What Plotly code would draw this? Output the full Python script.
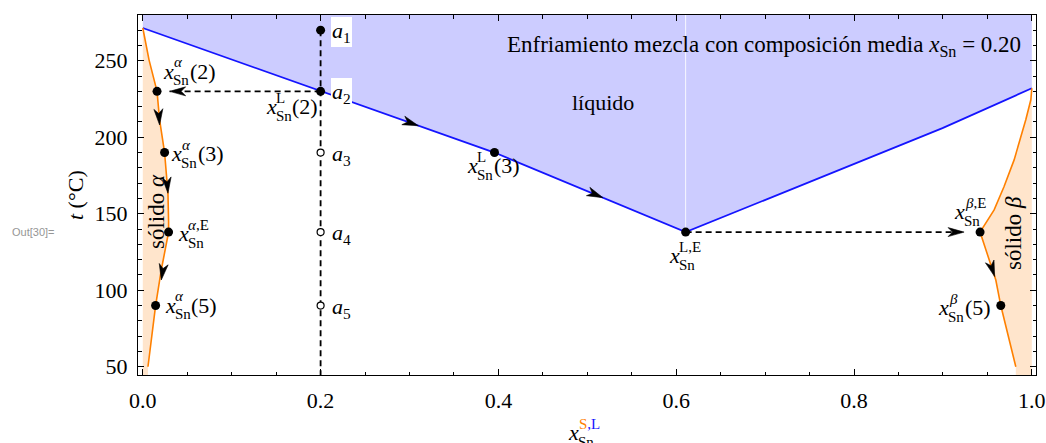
import numpy as np
import plotly.graph_objects as go

# ---------------- data ----------------
LIQ_X = [0.0, 0.2, 0.3956, 0.6106, 0.8995, 1.0]
LIQ_T = [271.4, 230.0, 190.0, 138.0, 206.0, 232.0]
ALPHA_X = [0.0, 0.007, 0.016, 0.0189, 0.0245, 0.0283, 0.029, 0.029, 0.0208, 0.0144, 0.0058]
ALPHA_T = [271.4, 250.6, 230.0, 211.4, 190.0, 163.4, 145.0, 138.0, 113.3, 90.0, 50.0]
BETA_X = [1.0, 0.9989, 0.9932, 0.9876, 0.9801, 0.9688, 0.9576, 0.9418, 0.9519, 0.9595, 0.9651, 0.982]
BETA_T = [232.0, 224.5, 211.4, 200.5, 185.2, 167.8, 152.5, 138.0, 119.8, 106.7, 90.0, 50.0]
X_MEAN = 0.2
A_T = [270.0, 230.0, 190.0, 138.0, 90.0]          # a1..a5
A_NAMES = ["1", "2", "3", "4", "5"]
X_ALPHA = {"2": (0.016, 230.0), "3": (0.0245, 190.0), "E": (0.029, 138.0), "5": (0.0144, 90.0)}
X_LIQ = {"2": (0.2, 230.0), "3": (0.3956, 190.0), "E": (0.6106, 138.0)}
X_BETA = {"E": (0.9418, 138.0), "5": (0.9651, 90.0)}
# arrow tips (t value on the curve)
ARROWS_LIQ = [207.5, 160.5]
ARROWS_ALPHA = [208.0, 163.4, 106.7]
ARROWS_BETA = [108.9]
ARROW_DASH_LEFT_X = 0.0302
ARROW_DASH_RIGHT_X = 0.9238

XTICKS = [0.0, 0.2, 0.4, 0.6, 0.8, 1.0]
XTICK_TEXT = ["0.0", "0.2", "0.4", "0.6", "0.8", "1.0"]
YTICKS = [50, 100, 150, 200, 250]

# ---------------- layout constants ----------------
W, H = 1046, 443
ML, MR, MT, MB = 138, 10, 15, 68
XR = [-0.0054, 1.0047]
YR = [44.6, 279.9]
PW, PH = W - ML - MR, H - MT - MB
PX_X = PW / (XR[1] - XR[0])
PX_T = PH / (YR[1] - YR[0])

SERIF = "Liberation Serif"
BLUE = "rgb(20,20,255)"
ORANGE = "rgb(255,128,0)"
FILL_BLUE = "rgb(204,204,255)"
FILL_ORANGE = "rgb(255,229,204)"

fig = go.Figure()

# liquid region fill
fx = list(LIQ_X) + [LIQ_X[-1], LIQ_X[0]]
ft = list(LIQ_T) + [YR[1], YR[1]]
fig.add_trace(go.Scatter(x=fx, y=ft, fill="toself", fillcolor=FILL_BLUE, mode="lines",
                         line=dict(width=0), hoverinfo="skip", showlegend=False))
# seam in the fill (two polygons in the original)
fig.add_trace(go.Scatter(x=[LIQ_X[3], LIQ_X[3]], y=[LIQ_T[3], YR[1]], mode="lines",
                         line=dict(color="rgba(255,255,255,0.85)", width=1), showlegend=False))

# solid alpha fill
ax_ = list(ALPHA_X) + [ALPHA_X[-1], 0.0]
at_ = list(ALPHA_T) + [YR[0], YR[0]]
fig.add_trace(go.Scatter(x=ax_, y=at_, fill="toself", fillcolor=FILL_ORANGE, mode="lines",
                         line=dict(width=0), hoverinfo="skip", showlegend=False))
# solid beta fill
bx_ = list(BETA_X) + [BETA_X[-1], 1.0]
bt_ = list(BETA_T) + [YR[0], YR[0]]
fig.add_trace(go.Scatter(x=bx_, y=bt_, fill="toself", fillcolor=FILL_ORANGE, mode="lines",
                         line=dict(width=0), hoverinfo="skip", showlegend=False))

# curves
fig.add_trace(go.Scatter(x=LIQ_X, y=LIQ_T, mode="lines", line=dict(color=BLUE, width=1.8), showlegend=False))
fig.add_trace(go.Scatter(x=ALPHA_X, y=ALPHA_T, mode="lines", line=dict(color=ORANGE, width=1.6), showlegend=False))
fig.add_trace(go.Scatter(x=BETA_X, y=BETA_T, mode="lines", line=dict(color=ORANGE, width=1.6), showlegend=False))

DASH = "6px,4px"
# vertical dashed cooling path
fig.add_trace(go.Scatter(x=[X_MEAN, X_MEAN], y=[A_T[0], YR[0]], mode="lines",
                         line=dict(color="black", width=1.8, dash=DASH), showlegend=False))
# tie lines
fig.add_trace(go.Scatter(x=[X_LIQ["2"][0], ARROW_DASH_LEFT_X], y=[A_T[1], A_T[1]], mode="lines",
                         line=dict(color="black", width=1.6, dash=DASH), showlegend=False))
fig.add_trace(go.Scatter(x=[X_LIQ["E"][0], ARROW_DASH_RIGHT_X], y=[X_LIQ["E"][1]] * 2, mode="lines",
                         line=dict(color="black", width=1.6, dash=DASH), showlegend=False))


def tip_on(curve_x, curve_t, t, lo, hi):
    """x position at temperature t on the segment range lo..hi of a curve"""
    xs = np.array(curve_x[lo:hi + 1]); ts = np.array(curve_t[lo:hi + 1])
    order = np.argsort(ts)
    return float(np.interp(t, ts[order], xs[order]))


def arrow(tip, prev, L=16.0, Wd=9.0, notch=0.72):
    dx = (tip[0] - prev[0]) * PX_X
    dy = (tip[1] - prev[1]) * PX_T
    n = np.hypot(dx, dy)
    ux, uy = dx / n, dy / n
    px, py = -uy, ux
    rel = [(0, 0), (-L * ux + Wd / 2 * px, -L * uy + Wd / 2 * py), (-notch * L * ux, -notch * L * uy),
           (-L * ux - Wd / 2 * px, -L * uy - Wd / 2 * py), (0, 0)]
    xs = [tip[0] + r[0] / PX_X for r in rel]
    ys = [tip[1] + r[1] / PX_T for r in rel]
    fig.add_trace(go.Scatter(x=xs, y=ys, fill="toself", fillcolor="black", mode="lines",
                             line=dict(color="black", width=0.6), hoverinfo="skip", showlegend=False))


# liquidus arrows
t = ARROWS_LIQ[0]; arrow((tip_on(LIQ_X, LIQ_T, t, 1, 2), t), (LIQ_X[1], LIQ_T[1]))
t = ARROWS_LIQ[1]; arrow((tip_on(LIQ_X, LIQ_T, t, 2, 3), t), (LIQ_X[2], LIQ_T[2]))
# alpha arrows
t = ARROWS_ALPHA[0]; arrow((tip_on(ALPHA_X, ALPHA_T, t, 2, 3), t), (ALPHA_X[2], ALPHA_T[2]))
t = ARROWS_ALPHA[1]; arrow((tip_on(ALPHA_X, ALPHA_T, t, 4, 5), t), (ALPHA_X[4], ALPHA_T[4]))
t = ARROWS_ALPHA[2]; arrow((tip_on(ALPHA_X, ALPHA_T, t, 7, 8), t), (ALPHA_X[7], ALPHA_T[7]))
# beta arrow
t = ARROWS_BETA[0]; arrow((tip_on(BETA_X, BETA_T, t, 7, 9), t), (BETA_X[7], BETA_T[7]))
# tie-line arrows
arrow((ARROW_DASH_LEFT_X, A_T[1]), (X_LIQ["2"][0], A_T[1]))
arrow((ARROW_DASH_RIGHT_X, X_LIQ["E"][1]), (X_LIQ["E"][0], X_LIQ["E"][1]))

# points
filled = [(X_MEAN, A_T[0]), (X_MEAN, A_T[1]), X_ALPHA["2"], X_ALPHA["3"], X_LIQ["3"], X_ALPHA["E"],
          X_LIQ["E"], X_BETA["E"], X_ALPHA["5"], X_BETA["5"]]
fig.add_trace(go.Scatter(x=[p[0] for p in filled], y=[p[1] for p in filled], mode="markers",
                         marker=dict(color="black", size=9), showlegend=False))
fig.add_trace(go.Scatter(x=[X_MEAN] * 3, y=A_T[2:], mode="markers",
                         marker=dict(color="white", size=7, line=dict(color="black", width=1.2)),
                         showlegend=False))

# ---------------- text ----------------
S_MAIN, S_SUB = 22, 15


def piece(xd, yd, text, size, left, base, color="black", ref="data", angle=0, bg=None, xanchor="left"):
    middle = base - 0.3375 * size
    kw = dict(xref="x", yref="y") if ref == "data" else dict(xref="paper", yref="paper")
    fig.add_annotation(x=xd, y=yd, text=text, showarrow=False, textangle=angle,
                       font=dict(family=SERIF, size=size, color=color), xanchor=xanchor, yanchor="middle",
                       xshift=left - 2, yshift=-middle, bgcolor=bg, borderpad=1, **kw)


SN_W = 1.056 * S_SUB


def xlabel(pt, bx, by, sup, tail=None, sup_w=None, ref="data"):
    piece(pt[0], pt[1], "<i>x</i>", S_MAIN, bx, by, ref=ref)
    piece(pt[0], pt[1], "Sn", S_SUB, bx + 10, by + 7, ref=ref)
    piece(pt[0], pt[1], sup, S_SUB, bx + 10.5, by - 11, ref=ref)
    if tail:
        w = max(SN_W, sup_w or 0)
        piece(pt[0], pt[1], tail, S_MAIN, bx + 10 + w + 1, by, ref=ref)


xlabel(X_ALPHA["2"], 6, -12.8, "<i>α</i>", "(2)", 8)
xlabel(X_LIQ["2"], -55, 22.7, "L", "(2)", 9)
xlabel(X_ALPHA["3"], 6.7, 8.2, "<i>α</i>", "(3)", 8)
xlabel(X_LIQ["3"], -27.6, 20.7, "L", "(3)", 9)
xlabel(X_ALPHA["E"], 9.4, 8.6, "<i>α</i>,E")
xlabel(X_LIQ["E"], -16.7, 31, "L,E")
xlabel(X_BETA["E"], -26, -13.3, "<i>β</i>,E")
xlabel(X_ALPHA["5"], 9, 7, "<i>α</i>", "(5)", 8)
xlabel(X_BETA["5"], -62.7, 9.3, "<i>β</i>", "(5)", 8)

# a_i labels
for i, (tv, nm) in enumerate(zip(A_T, A_NAMES)):
    bg = "white" if i < 2 else None
    fig.add_annotation(x=X_MEAN, y=tv, xref="x", yref="y", text="<i>a</i><sub>%s</sub>" % nm,
                       showarrow=False, font=dict(family=SERIF, size=S_MAIN, color="black"),
                       xanchor="left", yanchor="middle", xshift=10, yshift=-2, bgcolor=bg, borderpad=0,
                       borderwidth=1, bordercolor=bg if bg else "rgba(0,0,0,0)")

# region names
fig.add_annotation(x=0.5, y=1, xref="paper", yref="paper",
                   text="Enfriamiento mezcla con composición media <i>x</i><sub>Sn</sub> = 0.20",
                   showarrow=False, font=dict(family=SERIF, size=23, color="black"),
                   xanchor="right", yanchor="middle", xshift=(1023 - (ML + PW / 2)), yshift=-(46 - MT))
fig.add_annotation(x=0.5, y=1, xref="paper", yref="paper", text="líquido", showarrow=False,
                   font=dict(family=SERIF, size=22, color="black"), xanchor="center", yanchor="middle",
                   xshift=(603 - (ML + PW / 2)), yshift=-(102 - MT))
fig.add_annotation(x=0, y=0.5, xref="paper", yref="paper", text="sólido <i>α</i>", showarrow=False,
                   textangle=-90, font=dict(family=SERIF, size=23, color="black"),
                   xanchor="center", yanchor="middle", xshift=(156 - ML), yshift=-(212 - (MT + PH / 2)))
fig.add_annotation(x=1, y=0.5, xref="paper", yref="paper", text="sólido <i>β</i>", showarrow=False,
                   textangle=-90, font=dict(family=SERIF, size=23, color="black"),
                   xanchor="center", yanchor="middle", xshift=(1013 - (ML + PW)), yshift=-(233 - (MT + PH / 2)))

# axis titles
fig.add_annotation(x=0, y=0.5, xref="paper", yref="paper", text="<i>t</i> (°C)", showarrow=False,
                   textangle=-90, font=dict(family=SERIF, size=22, color="black"),
                   xanchor="center", yanchor="middle", xshift=(75 - ML), yshift=0)
XT = (0.5, 0.0)
xlabel(XT, 568 - (ML + PW / 2), 440 - (MT + PH), '<span style="color:rgb(255,128,0)">S</span>'
       '<span style="color:rgb(20,20,255)">,L</span>', ref="paper")

fig.add_annotation(x=0, y=0.5, xref="paper", yref="paper", text="Out[30]=", showarrow=False,
                   font=dict(family="Liberation Sans", size=11, color="rgb(150,150,150)"),
                   xanchor="left", yanchor="middle", xshift=(10 - ML), yshift=-(232 - (MT + PH / 2)))

axis_common = dict(showline=True, linecolor="black", linewidth=1, mirror="ticks", ticks="inside",
                   tickcolor="black", tickwidth=1, ticklen=6, showgrid=False, zeroline=False,
                   tickfont=dict(family=SERIF, size=22, color="black"))
fig.update_xaxes(range=XR, tickvals=XTICKS, ticktext=XTICK_TEXT, ticklabelstandoff=6,
                 minor=dict(ticks="inside", dtick=0.05, ticklen=3.5, tickcolor="black", showgrid=False),
                 **axis_common)
fig.update_yaxes(range=YR, tickvals=YTICKS, ticklabelstandoff=5,
                 minor=dict(ticks="inside", dtick=10, ticklen=3.5, tickcolor="black", showgrid=False),
                 **axis_common)

fig.update_layout(width=W, height=H, margin=dict(l=ML, r=MR, t=MT, b=MB, autoexpand=False),
                  plot_bgcolor="white", paper_bgcolor="white", showlegend=False)

fig.write_html("out.html")
